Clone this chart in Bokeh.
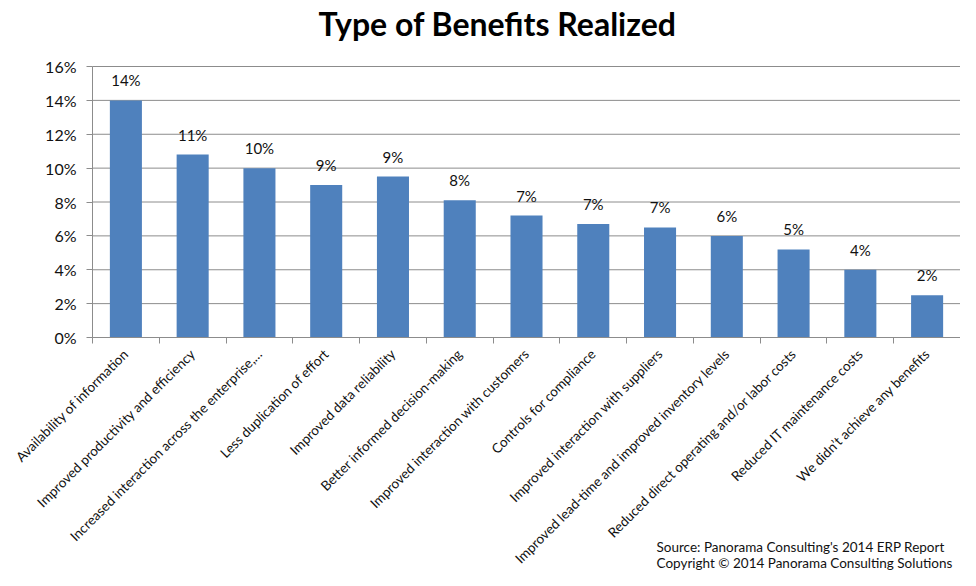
import math
from bokeh.plotting import figure
from bokeh.models import (ColumnDataSource, Range1d, FixedTicker, PrintfTickFormatter, Label)
from bokeh.core.properties import value
from bokeh.embed import file_html
from bokeh.resources import INLINE

categories = [
    "Availability of information",
    "Improved productivity and efficiency",
    "Increased interaction across the enterprise,\u2026",
    "Less duplication of effort",
    "Improved data reliability",
    "Better informed decision-making",
    "Improved interaction with customers",
    "Controls for compliance",
    "Improved interaction with suppliers",
    "Improved lead-time and improved inventory levels",
    "Reduced direct operating and/or labor costs",
    "Reduced IT maintenance costs",
    "We didn\u2019t achieve any benefits",
]
values = [14.0, 10.8, 10.0, 9.0, 9.5, 8.1, 7.2, 6.7, 6.5, 6.0, 5.2, 4.0, 2.5]
value_labels = ["14%", "11%", "10%", "9%", "9%", "8%", "7%", "7%", "7%", "6%", "5%", "4%", "2%"]
y_ticks = [0, 2, 4, 6, 8, 10, 12, 14, 16]
title_text = "Type of Benefits Realized"
source_lines = ["Source: Panorama Consulting's 2014 ERP Report",
                "Copyright \u00a9 2014 Panorama Consulting Solutions"]

n = len(categories)
centers = [i + 0.5 for i in range(n)]
bounds = [float(i) for i in range(n + 1)]
y_max = y_ticks[-1]

src = ColumnDataSource(dict(x=centers, top=values, lab=value_labels))
grid_src = ColumnDataSource(dict(y=y_ticks, x0=[0] * len(y_ticks), x1=[n] * len(y_ticks)))

FONT = "Lato"
GRID = "#8c8c8c"

# The frame covers the whole canvas; both axes are pinned at zero so that the
# title, the rotated category labels and the source note fit inside it.
p = figure(width=960, height=570, output_backend="svg", toolbar_location=None,
           x_range=Range1d(-1.378, n), y_range=Range1d(-13.756, 19.897),
           min_border_left=0, min_border_right=0, min_border_top=0, min_border_bottom=0)

p.outline_line_color = None
p.xgrid.grid_line_color = None
p.ygrid.grid_line_color = None

# horizontal gridlines at the value ticks, spanning the category axis only
p.segment(x0="x0", x1="x1", y0="y", y1="y", source=grid_src,
          line_color=GRID, line_width=1)

p.vbar(x="x", top="top", width=0.48, bottom=0, source=src,
       fill_color="#4F81BD", line_color=None)

p.text(x="x", y="top", text="lab", source=src, text_font=value(FONT),
       text_font_size="15px", text_align="center", text_baseline="middle",
       y_offset=-20, text_color="#111111")

xa = p.xaxis[0]
xa.fixed_location = 0
xa.bounds = (0, n)
xa.ticker = FixedTicker(ticks=centers, minor_ticks=bounds)
xa.major_label_overrides = {c: lab for c, lab in zip(centers, categories)}
xa.major_label_orientation = math.pi / 4
xa.major_label_text_font = FONT
xa.major_label_text_font_size = "13.5px"
xa.major_label_text_color = "#111111"
xa.major_label_standoff = 8
xa.major_tick_line_color = None
xa.minor_tick_line_color = GRID
xa.minor_tick_in = 0
xa.minor_tick_out = 6
xa.axis_line_color = GRID

ya = p.yaxis[0]
ya.fixed_location = 0
ya.bounds = (0, y_max)
ya.ticker = FixedTicker(ticks=y_ticks)
ya.formatter = PrintfTickFormatter(format="%d%%")
ya.major_label_text_font = FONT
ya.major_label_text_font_size = "16px"
ya.major_label_text_color = "#111111"
ya.major_tick_line_color = GRID
ya.major_tick_in = 0
ya.major_tick_out = 6
ya.minor_tick_line_color = None
ya.axis_line_color = GRID
ya.major_label_standoff = 10

p.add_layout(Label(x=318, y=547, x_units="screen", y_units="screen",
                   text=title_text, text_font=FONT, text_font_size="32px",
                   text_font_style="bold", text_baseline="middle", text_color="#000000"))

for i, line in enumerate(source_lines):
    p.add_layout(Label(x=656, y=24 - 16 * i, x_units="screen", y_units="screen",
                       text=line, text_font=FONT, text_font_size="13.5px",
                       text_baseline="middle", text_color="#111111"))

open("out.html", "w").write(file_html(p, INLINE))
